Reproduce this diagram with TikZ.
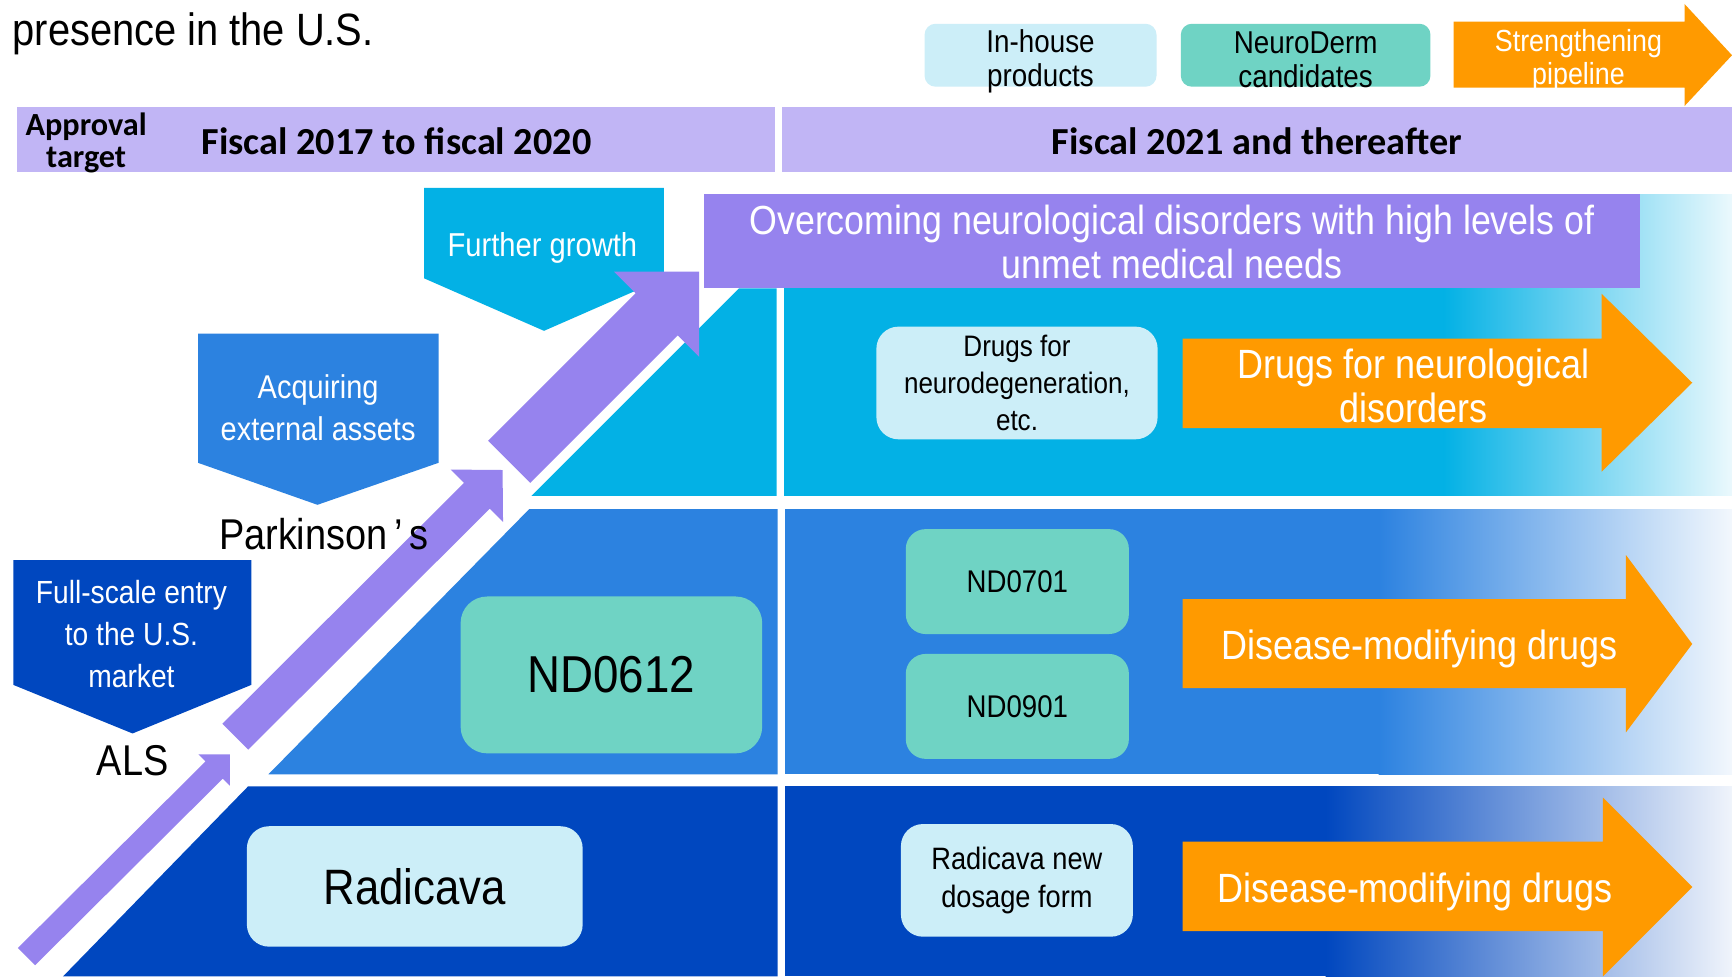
\documentclass[tikz,border=0pt]{standalone}
\usepackage{fontspec}
\setmainfont{Liberation Sans}[FakeStretch=0.88]
\newfontfamily\hdrfont{Carlito}
\usetikzlibrary{calc}
\definecolor{hdrc}{HTML}{C1B5F5}
\definecolor{purp}{HTML}{9683EE}
\definecolor{rowA}{HTML}{03B1E5}
\definecolor{rowB}{HTML}{2C82E0}
\definecolor{rowC}{HTML}{0047BF}
\definecolor{tealc}{HTML}{6FD3C4}
\definecolor{lcyan}{HTML}{CCEEF8}
\definecolor{orng}{HTML}{FF9A00}
\tikzset{
  lbl/.style={inner sep=0pt, align=center, text=black, yshift=-1.2pt},
  wlbl/.style={inner sep=0pt, align=center, text=white, yshift=-1.2pt},
  rbox/.style={inner sep=0pt, align=center, text=black, rounded corners=#1},
  hdrtxt/.style={inner sep=0pt, align=center, text=black, font=\hdrfont\bfseries\fontsize{17.3pt}{18pt}\selectfont},
}
\begin{document}
\begin{tikzpicture}[x=0.5pt,y=-0.5pt]
\useasboundingbox (0,0) rectangle (1568,884);
\fill[white] (0,0) rectangle (1568,884);

% title
\node[inner sep=0pt, anchor=base west, font=\fontsize{20.5pt}{22pt}\selectfont] (title) at (11,41) {presence in the U.S.};

% legend
\node[rbox=5pt, fill=lcyan, minimum width=105pt, minimum height=28.5pt] (inhouse) at (942,50) {};
\node[lbl, font=\fontsize{14.3pt}{15.5pt}\selectfont] (inhousetxt) at (942,53) {In-house\\products};
\node[rbox=5pt, fill=tealc, minimum width=113pt, minimum height=28.5pt] (neuro) at (1182,50) {};
\node[lbl, font=\fontsize{14.3pt}{15.5pt}\selectfont] (neurotxt) at (1182,52) {NeuroDerm\\candidates};
\fill[orng] (1316,19.6) -- (1525,19.6) -- (1525,3.6) -- (1568,50) -- (1525,96) -- (1525,79.4) -- (1316,79.4) -- cycle;
\node[wlbl, font=\fontsize{13.8pt}{15pt}\selectfont] (strength) at (1429,52) {Strengthening\\pipeline};

% header bar
\fill[hdrc] (15,97) rectangle (702,156);
\fill[hdrc] (708,97) rectangle (1568,156);
\node[hdrtxt, font=\hdrfont\bfseries\fontsize{14.6pt}{14.5pt}\selectfont] (approval) at (78,129) {Approval\\target};
\node[hdrtxt] (fisc1) at (359,128) {Fiscal 2017 to fiscal 2020};
\node[hdrtxt] (fisc2) at (1138,128) {Fiscal 2021 and thereafter};

% row 1 (cyan)
\fill[rowA] (481,449) -- (669,261) -- (703,261) -- (703,449) -- cycle;
\fill[rowA] (710,176) rectangle (1308,449);
\shade[left color=rowA, right color=rowA!8!white] (1307,176) rectangle (1568,449);
% row 2 (medium blue)
\fill[rowB] (243,701) -- (479,461) -- (704,461) -- (704,701) -- cycle;
\fill[rowB] (711,461) rectangle (1249,701);
\shade[left color=rowB, right color=rowB!6!white] (1248,461) rectangle (1568,701);
% row 3 (dark blue)
\fill[rowC] (57,884) -- (224.5,712) -- (704,712) -- (704,884) -- cycle;
\fill[rowC] (711,712) rectangle (1201,884);
\shade[left color=rowC, right color=rowC!6!white] (1200,712) rectangle (1568,884);

% banner
\node[fill=purp, inner sep=0pt, minimum width=424pt, minimum height=42.5pt] (banner) at (1061,218.5) {};
\node[wlbl, font=\fontsize{18.4pt}{20pt}\selectfont] (bannertxt) at (1061,217) {Overcoming neurological disorders with high levels of\\unmet medical needs};

% orange arrows
\fill[orng] (1070.6,306.6) -- (1450,306.6) -- (1450,266) -- (1532,346.5) -- (1450,427) -- (1450,387.5) -- (1070.6,387.5) -- cycle;
\node[wlbl, font=\fontsize{18.5pt}{20pt}\selectfont] (arrA) at (1280,347) {Drugs for neurological\\disorders};
\fill[orng] (1070.6,542.3) -- (1472,542.3) -- (1472,502.5) -- (1532,583) -- (1472,663) -- (1472,623) -- (1070.6,623) -- cycle;
\node[wlbl, font=\fontsize{18.5pt}{20pt}\selectfont] (arrB) at (1285,585) {Disease-modifying drugs};
\fill[orng] (1070.6,762) -- (1451,762) -- (1451,722) -- (1532,803) -- (1451,884) -- (1451,843) -- (1070.6,843) -- cycle;
\node[wlbl, font=\fontsize{18.5pt}{20pt}\selectfont] (arrC) at (1281,805) {Disease-modifying drugs};

% boxes
\node[rbox=10pt, fill=lcyan, minimum width=152pt, minimum height=54.5pt, font=\fontsize{22.5pt}{24pt}\selectfont] (radicava) at (375.5,802.5) {Radicava};
\node[rbox=12pt, fill=tealc, minimum width=136.5pt, minimum height=71pt, font=\fontsize{23.5pt}{25pt}\selectfont] (nd0612) at (553.5,611) {ND0612};
\node[rbox=10pt, fill=lcyan, minimum width=127.3pt, minimum height=51pt, font=\fontsize{13.4pt}{16.7pt}\selectfont] (neurodeg) at (920.7,346.7) {Drugs for\\neurodegeneration,\\etc.};
\node[rbox=9pt, fill=tealc, minimum width=101pt, minimum height=47.5pt, font=\fontsize{14.2pt}{16pt}\selectfont] (nd0701) at (921,526.5) {ND0701};
\node[rbox=9pt, fill=tealc, minimum width=101pt, minimum height=47.5pt, font=\fontsize{14.2pt}{16pt}\selectfont] (nd0901) at (921,639.5) {ND0901};
\node[rbox=10pt, fill=lcyan, minimum width=105pt, minimum height=51pt, font=\fontsize{14pt}{17.5pt}\selectfont] (radnew) at (920.6,797) {Radicava new\\dosage form};

% pentagons
\fill[rowA] (384,170) -- (601,170) -- (601,252) -- (492.5,299.5) -- (384,252) -- cycle;
\node[wlbl, font=\fontsize{15pt}{19pt}\selectfont] (further) at (491,222) {Further growth};
\fill[rowB] (179.3,302) -- (397,302) -- (397,419) -- (287.4,457) -- (179.3,419) -- cycle;
\node[wlbl, font=\fontsize{14.9pt}{19pt}\selectfont] (acquire) at (288,367) {Acquiring\\external assets};
\fill[rowC] (12,507) -- (227.6,507) -- (227.6,620) -- (120,664) -- (12,620) -- cycle;
\node[wlbl, font=\fontsize{14.5pt}{19pt}\selectfont] (fullscale) at (119,572) {Full-scale entry\\to the U.S.\\market};

% purple arrows
\fill[purp] (16.2,858.2) -- (186.1,689.3) -- (179.7,683) -- (208,683) -- (208,711.3) -- (201.7,704.9) -- (31.8,873.8) -- cycle;
\fill[purp] (201.3,655.3) -- (420,437.2) -- (408,425.1) -- (455,425.5) -- (455.4,472.5) -- (443.3,460.5) -- (224.7,678.7) -- cycle;
\fill[purp] (441.9,398.9) -- (575.4,265.4) -- (556,246) -- (633,246) -- (633,323) -- (613.6,303.6) -- (480.1,437.1) -- cycle;

% disease labels
\node[lbl, font=\fontsize{19.5pt}{21pt}\selectfont] (parkinson) at (293,481) {Parkinson\kern3pt’\kern3pt s};
\node[lbl, font=\fontsize{19.5pt}{21pt}\selectfont] (als) at (120,686) {ALS};
\end{tikzpicture}
\end{document}
